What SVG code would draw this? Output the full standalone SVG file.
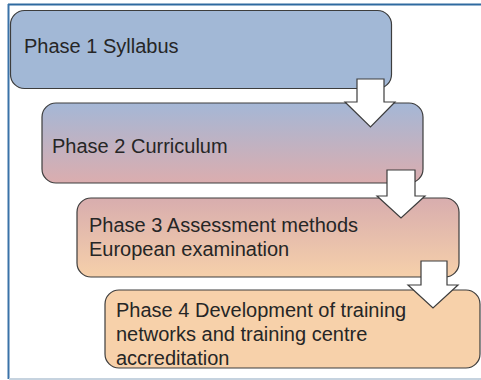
<svg xmlns="http://www.w3.org/2000/svg" width="481" height="380" viewBox="0 0 481 380">
<defs>
<linearGradient id="g2" x1="0" y1="0" x2="0" y2="1"><stop offset="0" stop-color="#a4b7d6"/><stop offset="1" stop-color="#dbadae"/></linearGradient>
<linearGradient id="g3" x1="0" y1="0" x2="0" y2="1"><stop offset="0" stop-color="#d8adae"/><stop offset="1" stop-color="#f6d0aa"/></linearGradient>
<style>
.box{stroke:#3d3d3d;stroke-width:1.2}
.t{font-family:"Liberation Sans",Arial,sans-serif;font-size:20px;fill:#262626}
.arr{fill:#ffffff;stroke:#3d3d3d;stroke-width:1.2;stroke-linejoin:miter}
</style>
</defs>
<rect width="481" height="380" fill="#ffffff"/>
<g id="frame">
<line x1="8" y1="4.5" x2="481" y2="4.5" stroke="#2f6aa0" stroke-width="2"/>
<line x1="8.5" y1="4" x2="8.5" y2="379" stroke="#3a72a8" stroke-width="2"/>
<line x1="9" y1="379" x2="481" y2="379" stroke="#c6d3df" stroke-width="2"/>
</g>
<g id="phase1">
<rect class="box" x="10.5" y="10.5" width="381" height="78" rx="14" fill="#a2b8d6"/>
<text class="t" x="24" y="53">Phase 1 Syllabus</text>
</g>
<g id="phase2">
<rect class="box" x="42" y="103" width="381" height="80" rx="14" fill="url(#g2)"/>
<text class="t" x="52" y="153">Phase 2 Curriculum</text>
</g>
<g id="phase3">
<rect class="box" x="77" y="198" width="382" height="79" rx="14" fill="url(#g3)"/>
<text class="t" x="89" y="232">Phase 3 Assessment methods</text>
<text class="t" x="89" y="256">European examination</text>
</g>
<g id="phase4">
<rect class="box" x="105" y="290" width="375" height="78" rx="14" fill="#f7d1aa"/>
<text class="t" x="116" y="317">Phase 4 Development of training</text>
<text class="t" x="116" y="341">networks and training centre</text>
<text class="t" x="116" y="365">accreditation</text>
</g>
<g id="connectors">
<path class="arr" d="M357,79 H384 V102 H395 L370.5,127 L345,102 H357 Z"/>
<path class="arr" d="M387,170 H415 V196 H425 L401,218 L377,196 H387 Z"/>
<path class="arr" d="M421,261 H447 V285 H458 L433,308 L408,285 H421 Z"/>
</g>
</svg>
